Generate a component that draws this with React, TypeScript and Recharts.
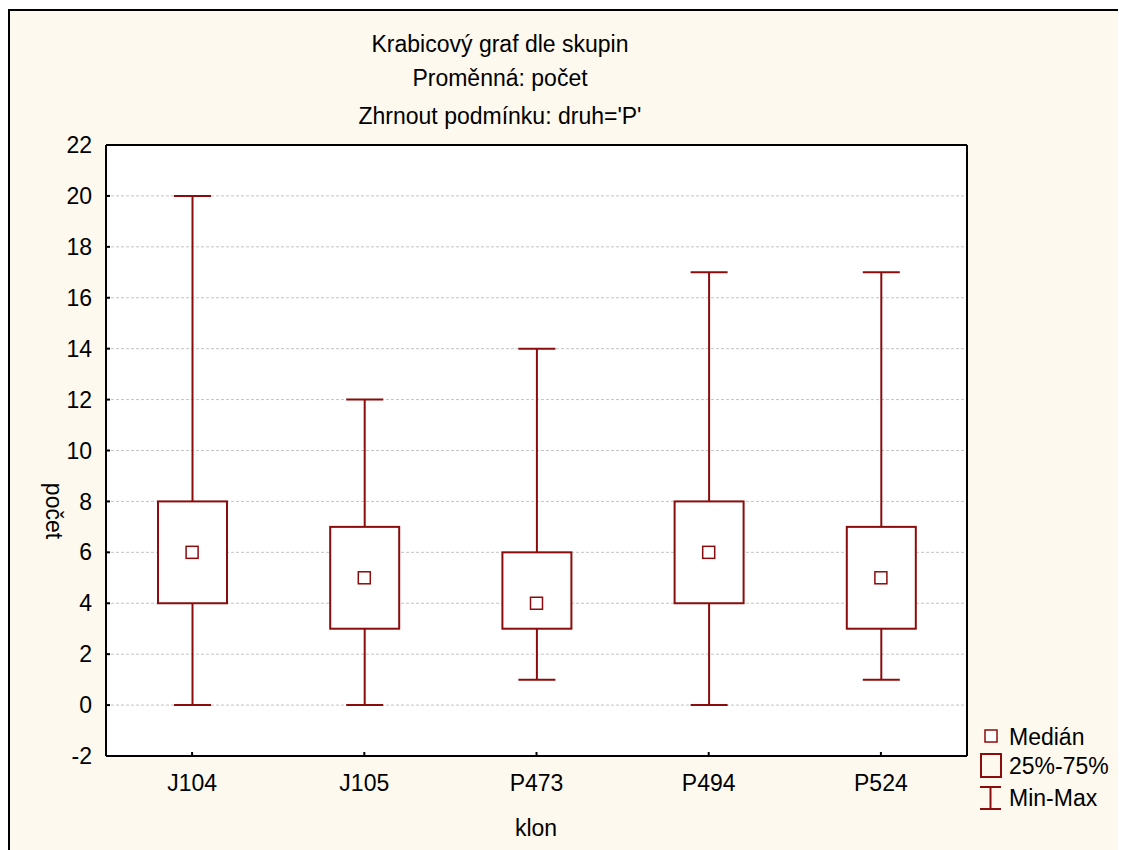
import React from "react";
import { ComposedChart, Bar, Scatter, XAxis, YAxis, CartesianGrid } from "recharts";

const klony = ["J104", "J105", "P473", "P494", "P524"];
const minima = [0, 0, 1, 0, 1];
const dolniKvartil = [4, 3, 3, 4, 3];
const mediany = [6, 5, 4, 6, 5];
const horniKvartil = [8, 7, 6, 8, 7];
const maxima = [20, 12, 14, 17, 17];
const yTicks = [-2, 0, 2, 4, 6, 8, 10, 12, 14, 16, 18, 20, 22];

const RED = "#8b0c0c";
const FONT = "'Liberation Sans', Arial, sans-serif";
const BG = "#fdf9ee";

const data = klony.map((klon, i) => ({
  klon,
  rozsah: [minima[i], maxima[i]],
  min: minima[i],
  q1: dolniKvartil[i],
  median: mediany[i],
  q3: horniKvartil[i],
  max: maxima[i],
}));

// one range bar (min..max) per klon; the box and whiskers are laid out inside it
function BoxShape(props: any) {
  const { x, y, width, height, payload } = props;
  if (payload == null || height == null) return null;
  const top = Math.min(y, y + height);
  const h = Math.abs(height);
  const span = payload.max - payload.min || 1;
  const py = (v: number) => top + ((payload.max - v) / span) * h;
  const cx = x + width / 2;
  const cap = 37;
  return (
    <g stroke={RED} strokeWidth={2} fill="none">
      <line x1={cx} x2={cx} y1={py(payload.max)} y2={py(payload.q3)} />
      <line x1={cx} x2={cx} y1={py(payload.q1)} y2={py(payload.min)} />
      <line x1={cx - cap / 2} x2={cx + cap / 2} y1={py(payload.max)} y2={py(payload.max)} />
      <line x1={cx - cap / 2} x2={cx + cap / 2} y1={py(payload.min)} y2={py(payload.min)} />
      <rect x={x} y={py(payload.q3)} width={width} height={py(payload.q1) - py(payload.q3)} fill="#fff" />
    </g>
  );
}

function MedianShape(props: any) {
  const { cx, cy } = props;
  if (cx == null || cy == null) return null;
  return <rect x={cx - 6} y={cy - 6} width={12} height={12} fill="#fff" stroke={RED} strokeWidth={1.5} />;
}

const tickStyle = { fill: "#000", fontSize: 23, fontFamily: FONT };
const lineStyle = { stroke: "#000", strokeWidth: 2 };

export default function App() {
  return (
    <div
      style={{
        position: "relative",
        width: 1116,
        height: 839,
        marginTop: 1,
        background: BG,
        borderTop: "2px solid #000",
        borderLeft: "2px solid #000",
        overflow: "hidden",
        fontFamily: FONT,
      }}
    >
      <style>{"html,body{overflow:hidden}"}</style>
      <ComposedChart
        width={1116}
        height={831}
        data={data}
        margin={{ top: 114, right: 139, left: 36, bottom: 46 }}
      >
        <CartesianGrid horizontal vertical={false} fill="#fff" stroke="#c4c4c4" strokeDasharray="3 2" />
        <XAxis
          dataKey="klon"
          height={40}
          tickSize={-4}
          tickMargin={23}
          axisLine={lineStyle}
          tickLine={lineStyle}
          tick={tickStyle}
          interval={0}
        />
        <XAxis
          xAxisId="top"
          orientation="top"
          dataKey="klon"
          height={20}
          tickSize={-4}
          axisLine={lineStyle}
          tickLine={lineStyle}
          tick={false}
          interval={0}
        />
        <YAxis
          type="number"
          domain={[-2, 22]}
          ticks={yTicks}
          interval={0}
          width={60}
          tickSize={-4}
          tickMargin={18}
          axisLine={lineStyle}
          tickLine={lineStyle}
          tick={tickStyle}
          allowDataOverflow
        />
        <YAxis
          yAxisId="right"
          orientation="right"
          type="number"
          domain={[-2, 22]}
          ticks={yTicks}
          interval={0}
          width={20}
          tickSize={-4}
          axisLine={lineStyle}
          tickLine={lineStyle}
          tick={false}
          allowDataOverflow
        />
        <Bar dataKey="rozsah" barSize={69} shape={BoxShape} isAnimationActive={false} />
        <Scatter dataKey="median" shape={MedianShape} isAnimationActive={false} />
      </ComposedChart>

      <svg
        width={1116}
        height={831}
        style={{ position: "absolute", left: 0, top: 0, pointerEvents: "none" }}
        fontFamily={FONT}
        fontSize={23}
      >
        <text x={490} y={41} textAnchor="middle">Krabicový graf dle skupin</text>
        <text x={490} y={75} textAnchor="middle">Proměnná: počet</text>
        <text x={490} y={113} textAnchor="middle">Zhrnout podmínku: druh='P'</text>
        <text x={526} y={825} textAnchor="middle">klon</text>
        <text x={44} y={500} textAnchor="middle" dominantBaseline="central" transform="rotate(90 44 500)">
          počet
        </text>

        <rect x={975} y={719} width={12} height={12} fill="#fff" stroke={RED} strokeWidth={1.5} />
        <text x={999} y={734}>Medián</text>
        <rect x={971} y={743} width={20} height={23} fill="none" stroke={RED} strokeWidth={2} />
        <text x={999} y={763}>25%-75%</text>
        <g stroke={RED} strokeWidth={2}>
          <line x1={970} x2={991} y1={776} y2={776} />
          <line x1={980.5} x2={980.5} y1={776} y2={798} />
          <line x1={970} x2={991} y1={798} y2={798} />
        </g>
        <text x={999} y={795}>Min-Max</text>
      </svg>
    </div>
  );
}
